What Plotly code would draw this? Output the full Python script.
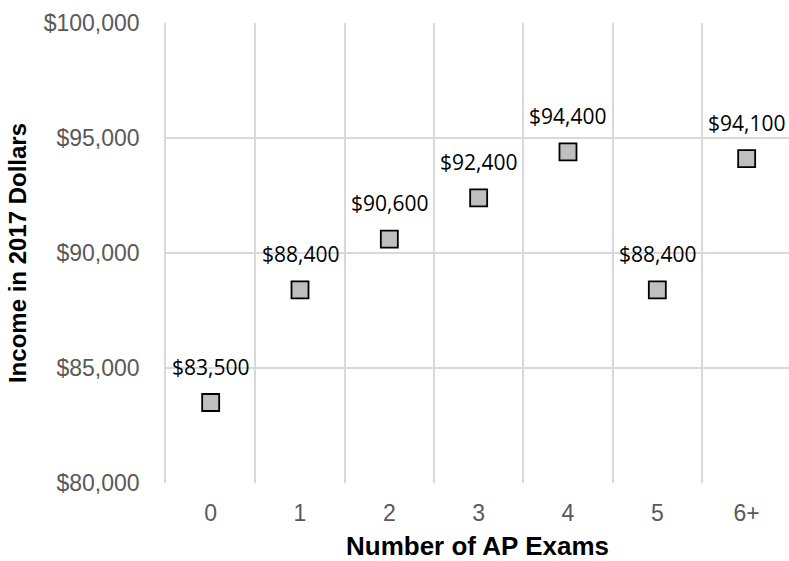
import plotly.graph_objects as go

# Median income by number of AP exams taken
exam_labels = ["0", "1", "2", "3", "4", "5", "6+"]
income = [83500, 88400, 90600, 92400, 94400, 88400, 94100]
y_ticks = [80000, 85000, 90000, 95000, 100000]

x_pos = list(range(len(exam_labels)))
point_text = [f"${v:,.0f}" for v in income]

GRID = "#D9D9D9"

fig = go.Figure()
fig.add_trace(go.Scatter(
    x=x_pos,
    y=income,
    mode="markers",
    marker=dict(symbol="square", size=17, color="#BFBFBF",
                line=dict(color="#000000", width=1.8)),
    cliponaxis=False,
    showlegend=False,
))

# value labels sit a fixed distance above each marker
for xv, yv, label in zip(x_pos, income, point_text):
    fig.add_annotation(
        x=xv, y=yv, text=label, showarrow=False, yshift=36,
        font=dict(family="Open Sans, Noto Sans, sans-serif", size=21, color="#000000"),
    )

fig.update_layout(
    width=789,
    height=561,
    margin=dict(l=166, r=0, t=23, b=78),
    paper_bgcolor="white",
    plot_bgcolor="white",
    font=dict(family="Liberation Sans, Arial, sans-serif"),
    xaxis=dict(
        range=[-0.5, 6.474],
        tickmode="array",
        tickvals=x_pos,
        ticktext=exam_labels,
        showgrid=False,
        zeroline=False,
        showline=False,
        ticks="",
        ticklabelstandoff=14,
        tickfont=dict(size=23, color="#595959"),
        minor=dict(tickmode="linear", tick0=-0.5, dtick=1, showgrid=True,
                   gridcolor=GRID, gridwidth=1.5),
        title=dict(text="<b>Number of AP Exams</b>", standoff=12,
                   font=dict(size=26, color="#000000")),
    ),
    yaxis=dict(
        range=[80000, 100000],
        tickmode="array",
        tickvals=y_ticks,
        ticktext=[f"${v:,.0f}" for v in y_ticks],
        showgrid=True,
        gridcolor=GRID,
        gridwidth=1.5,
        zeroline=False,
        showline=True,
        linecolor=GRID,
        linewidth=1.5,
        ticks="",
        ticklabelstandoff=20,
        tickfont=dict(size=23, color="#595959"),
        title=dict(text="<b>Income in 2017 Dollars</b>", standoff=10,
                   font=dict(size=24, color="#000000")),
    ),
)

fig.write_html("out.html")
